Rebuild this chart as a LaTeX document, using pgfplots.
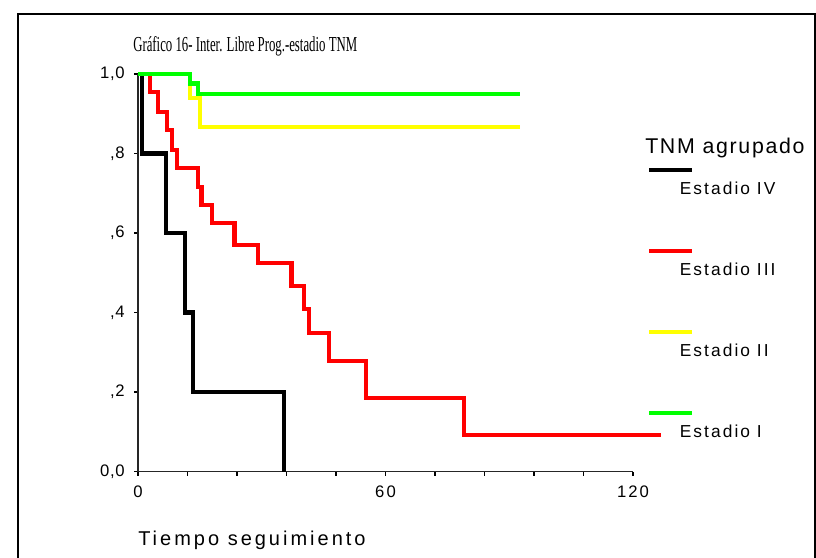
\documentclass[border=0pt]{standalone}
\usepackage{fontspec}
\setmainfont{Liberation Sans}
\newfontfamily\spss[LetterSpace=12]{Liberation Sans}
\newfontfamily\spsst[LetterSpace=4]{Liberation Sans}
\newfontfamily\titlefont{Liberation Serif}
\usepackage{pgfplots}
\pgfplotsset{compat=1.18}
\begin{document}
\begin{tikzpicture}
\useasboundingbox (0pt,0pt) rectangle (612pt,-417.75pt);
\draw[line width=1.1pt] (13.5pt,-425pt) -- (13.5pt,-10.5pt) -- (611.3pt,-10.5pt) -- (611.3pt,-425pt);
\begin{axis}[
  at={(103.5pt,-353.625pt)}, anchor=south west,
  scale only axis, width=371.25pt, height=298.125pt,
  xmin=0, xmax=120, ymin=0, ymax=1,
  axis lines=left, axis line style={-, line width=1pt, black!85},
  clip=false,
  xtick={0,12,...,120}, xticklabels={0,,,,,60,,,,,120},
  ytick={0,0.2,0.4,0.6,0.8,1}, yticklabels={{0,0},{,2},{,4},{,6},{,8},{1,0}},
  tick align=outside, major tick length=3pt,
  tick style={black, line width=0.8pt},
  xticklabel style={font=\spss\fontsize{12.5}{14}\selectfont, yshift=-4.5pt},
  yticklabel style={font=\spsst\fontsize{12.5}{14}\selectfont, xshift=-3.5pt},
  /pgf/number format/assume math mode=true,
  legend image code/.code={\draw[#1,overlay] (0pt,14.75pt) -- (32pt,14.75pt); \path[draw=none,fill=none] (0pt,0pt) -- (23pt,0pt);},
  legend style={draw=none, fill=none, at={(1.032,0.728)}, anchor=north west,
    inner sep=0pt, column sep=0pt, row sep=49.25pt,
    nodes={inner sep=0pt, text height=9pt, text depth=2.5pt, font=\spss\fontsize{13}{15}\selectfont}},
  legend cell align=left,
]
\addplot[const plot, black, line width=3.1pt] coordinates {
 (0,1) (0.9,0.8) (6.8,0.6) (11.4,0.4) (13.3,0.2) (35.3,0) };
\addlegendentry{Estadio IV}
\addplot[const plot, red, line width=3.1pt] coordinates {
 (0,1) (2.9,0.955) (4.8,0.904) (7.0,0.859) (8.2,0.809) (9.4,0.763) (14.5,0.716)
 (15.4,0.670) (17.9,0.625) (23.4,0.570) (29.0,0.525) (37.2,0.467) (40.2,0.409)
 (41.4,0.348) (46.4,0.278) (55.2,0.185) (79.0,0.092) (126.8,0.092) };
\addlegendentry{Estadio III}
\addplot[const plot, color={rgb,255:red,255;green,255;blue,0}, line width=3.1pt] coordinates {
 (0,1) (12.6,0.94) (15.0,0.867) (92.5,0.867) };
\addlegendentry{Estadio II}
\addplot[const plot, color={rgb,255:red,0;green,255;blue,0}, line width=3.1pt] coordinates {
 (0,1) (12.6,0.976) (14.5,0.95) (92.5,0.95) };
\addlegendentry{Estadio I}
\end{axis}
\node[anchor=west, inner sep=0pt] at (99.75pt,-34.5pt) {\scalebox{0.6}[1]{\titlefont\fontsize{16}{18}\selectfont Gráfico 16- Inter. Libre Prog.-estadio TNM}};
\node[anchor=west, inner sep=0pt] at (483.75pt,-111pt) {\spss\addfontfeatures{LetterSpace=8}\fontsize{16}{18}\selectfont TNM agrupado};
\node[anchor=west, inner sep=0pt] at (103.5pt,-405pt) {\spss\addfontfeatures{LetterSpace=15}\fontsize{15}{17}\selectfont Tiempo seguimiento};
\end{tikzpicture}
\end{document}
